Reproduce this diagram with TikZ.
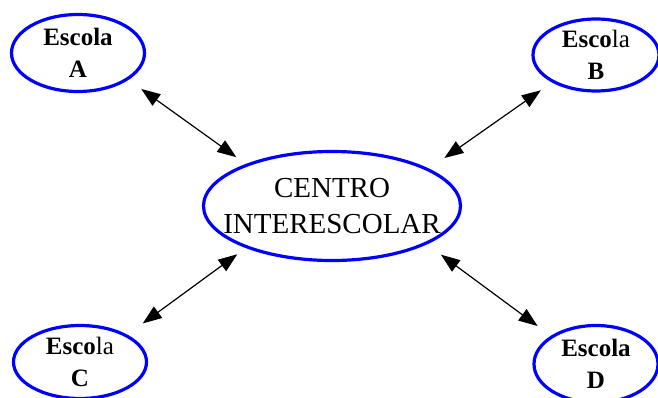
\documentclass[tikz,border=0pt]{standalone}
\usepackage{fontspec}
\setmainfont{Liberation Serif}
\usetikzlibrary{shapes.geometric,arrows.meta}
\begin{document}
\begin{tikzpicture}[x=1pt,y=-1pt,
  ring/.style={ellipse,draw=blue,line width=3.2pt,inner sep=0pt,align=center},
  escola/.style={ring,font=\fontsize{25}{32}\selectfont},
  centro/.style={ring,minimum width=257pt,minimum height=109pt,font=\fontsize{29}{36}\selectfont},
  link/.style={{Triangle[length=19pt,width=14pt]}-{Triangle[length=19pt,width=14pt]},line width=1.2pt,black}]
\clip (0,0) rectangle (658,398);
\node[centro] (c) at (332,206) {\makebox[0pt]{CENTRO}\\\makebox[0pt]{INTERESCOLAR}};
\node[escola,minimum width=133pt,minimum height=77pt] (a) at (78,53) {\textbf{Escola}\\\textbf{A}};
\node[escola,minimum width=126pt,minimum height=72pt] (b) at (596,55) {\textbf{Esco}la\\\textbf{B}};
\node[escola,minimum width=133pt,minimum height=73pt] (cc) at (80,362) {\textbf{Esco}la\\\textbf{C}};
\node[escola,minimum width=124pt,minimum height=77pt] (d) at (596,364) {\textbf{Escola}\\\textbf{D}};
\draw[link,shorten <=15.6pt,shorten >=11.7pt] (a.-28) -- (c.154);
\draw[link,shorten <=13.6pt,shorten >=18.6pt] (b.-148.6) -- (c.21.8);
\draw[link,shorten <=19pt,shorten >=10.6pt] (cc.30.1) -- (c.206.4);
\draw[link,shorten <=16.4pt,shorten >=17.4pt] (d.148.9) -- (c.-22.1);
\end{tikzpicture}
\end{document}
